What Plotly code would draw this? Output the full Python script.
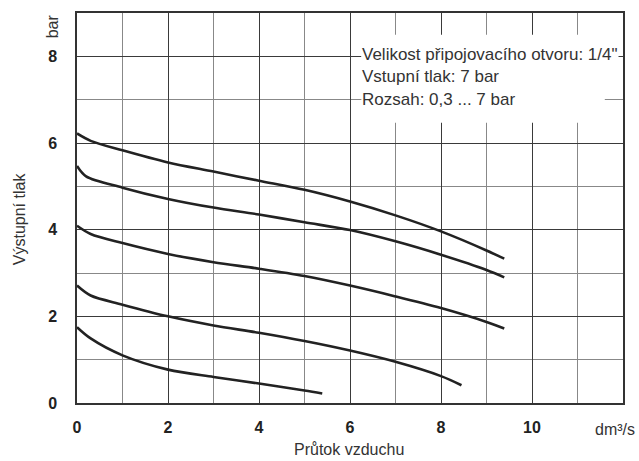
import plotly.graph_objects as go

# Flow (dm3/s) and pressure (bar) readings for each curve
c1_x = [0, 0.3, 1, 2, 3, 4, 5, 6, 7, 8, 9, 9.39]
c1_y = [6.22, 6.05, 5.83, 5.55, 5.34, 5.13, 4.92, 4.65, 4.33, 3.96, 3.52, 3.33]
c2_x = [0, 0.2, 1, 2, 3, 4, 5, 6, 7, 8, 9, 9.39]
c2_y = [5.47, 5.23, 4.97, 4.71, 4.51, 4.35, 4.17, 3.99, 3.73, 3.42, 3.07, 2.9]
c3_x = [0, 0.3, 1, 2, 3, 4, 5, 6, 7, 8, 9, 9.39]
c3_y = [4.09, 3.9, 3.69, 3.44, 3.25, 3.1, 2.93, 2.71, 2.46, 2.19, 1.87, 1.72]
c4_x = [0, 0.3, 1, 2, 3, 4, 5, 6, 7, 8, 8.45]
c4_y = [2.71, 2.48, 2.27, 2.0, 1.79, 1.62, 1.43, 1.21, 0.95, 0.62, 0.41]
c5_x = [0, 0.3, 1, 2, 3, 4, 5, 5.39]
c5_y = [1.75, 1.49, 1.1, 0.77, 0.6, 0.45, 0.29, 0.22]

x_ticks = [0, 2, 4, 6, 8, 10]
y_ticks = [0, 2, 4, 6, 8]
info_lines = ["Velikost připojovacího otvoru: 1/4\"", "Vstupní tlak: 7 bar", "Rozsah: 0,3 ... 7 bar"]

FONT = "Liberation Sans, Arial, sans-serif"
TXT = "#333333"
fig = go.Figure()
for xs, ys in [(c1_x, c1_y), (c2_x, c2_y), (c3_x, c3_y), (c4_x, c4_y), (c5_x, c5_y)]:
    fig.add_trace(go.Scatter(x=xs, y=ys, mode="lines",
                             line=dict(color="#222222", width=2.6, shape="spline", smoothing=0.9),
                             showlegend=False, hoverinfo="skip"))

axis_common = dict(showline=True, linecolor="#333333", linewidth=1.5, mirror=True,
                   showgrid=True, gridcolor="#3a3a3a", gridwidth=1.2,
                   zeroline=False, ticks="", automargin=False,
                   tickfont=dict(family=FONT, size=16, color="#222222", weight="bold"))

fig.update_layout(
    width=639, height=461,
    margin=dict(l=77, r=16, t=13, b=58),
    paper_bgcolor="white", plot_bgcolor="white",
    xaxis=dict(range=[0, 12], tickvals=x_ticks, ticktext=[str(v) for v in x_ticks],
               minor=dict(dtick=1, showgrid=True, gridcolor="#888888", gridwidth=1.2),
               ticklabelstandoff=9, **axis_common),
    yaxis=dict(range=[0, 9], tickvals=y_ticks, ticktext=[str(v) for v in y_ticks],
               minor=dict(dtick=1, showgrid=True, gridcolor="#888888", gridwidth=1.2),
               ticklabelstandoff=15, **axis_common),
)

# white box behind the info text
fig.add_shape(type="rect", xref="x", yref="y", x0=6.25, x1=11.6, y0=6.47, y1=8.5,
              fillcolor="white", line=dict(width=0), layer="between")

for i, t in enumerate(info_lines):
    fig.add_annotation(x=6.24, y=8.05 - i * 0.525, xref="x", yref="y", text=t, showarrow=False,
                       xanchor="left", yanchor="middle", bgcolor="white" if i == 0 else None,
                       borderpad=0,
                       font=dict(family=FONT, size=17, color=TXT))

fig.add_annotation(x=-0.045, y=0.967, xref="paper", yref="paper", text="bar", showarrow=False,
                   textangle=-90, xanchor="center", yanchor="middle",
                   font=dict(family=FONT, size=16, color=TXT))
fig.add_annotation(x=0.986, y=-0.067, xref="paper", yref="paper", text="dm³/s", showarrow=False,
                   xanchor="center", yanchor="middle", font=dict(family=FONT, size=16, color=TXT))
fig.add_annotation(x=-0.105, y=0.473, xref="paper", yref="paper", text="Výstupní tlak", showarrow=False,
                   textangle=-90, xanchor="center", yanchor="middle",
                   font=dict(family=FONT, size=16, color=TXT))
fig.add_annotation(x=0.498, y=-0.1205, xref="paper", yref="paper", text="Průtok vzduchu", showarrow=False,
                   xanchor="center", yanchor="middle", font=dict(family=FONT, size=16, color=TXT))

fig.write_html("out.html", config={"displayModeBar": False},
               post_script="document.body.style.margin='0';document.body.style.overflow='hidden';")
